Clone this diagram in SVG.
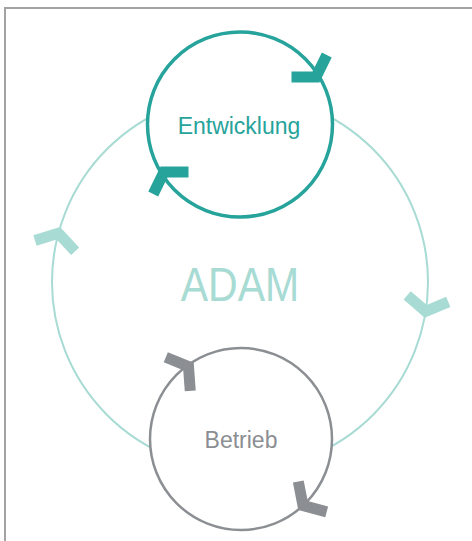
<svg xmlns="http://www.w3.org/2000/svg" width="472" height="541" viewBox="0 0 472 541">
<style>
.lbl{font-family:"Liberation Sans",Arial,sans-serif;text-anchor:middle}
.teal{fill:#26a39b}
.light{fill:#a7dbd3}
.gray{fill:#8b8e92}
</style>
<defs>
<polygon id="chev" points="6.5,0 -8.3,-23.7 -17.6,-17.9 -6.5,0 -17.6,17.9 -8.3,23.7"/>
</defs>
<rect width="472" height="541" fill="#ffffff"/>
<path d="M5,541 V8 H472" fill="none" stroke="#a3a3a3" stroke-width="2"/>
<g id="adam">
<circle cx="240" cy="282" r="188" fill="none" stroke="#a7dbd3" stroke-width="2"/>
<text class="lbl light" x="0" y="0" font-size="41" transform="translate(240,301) scale(1,1.18)">ADAM</text>
</g>
<g id="entwicklung">
<circle cx="240" cy="124.5" r="92.5" fill="#ffffff" stroke="#26a39b" stroke-width="3.5"/>
<text class="lbl teal" x="239" y="134" font-size="23">Entwicklung</text>
</g>
<g id="betrieb">
<circle cx="241" cy="439" r="91" fill="#ffffff" stroke="#8b8e92" stroke-width="2.5"/>
<text class="lbl gray" x="241" y="448" font-size="23">Betrieb</text>
</g>
<g id="connectors">
<use href="#chev" class="teal" transform="translate(316,77) rotate(58)"/>
<use href="#chev" class="teal" transform="translate(164,172) rotate(238)"/>
<use href="#chev" class="light" transform="translate(58.4,233.3) rotate(285)"/>
<use href="#chev" class="light" transform="translate(425.7,311.4) rotate(99)"/>
<use href="#chev" class="gray" transform="translate(188.5,366.5) rotate(-36)"/>
<use href="#chev" class="gray" transform="translate(303,505.5) rotate(137)"/>
</g>
</svg>
